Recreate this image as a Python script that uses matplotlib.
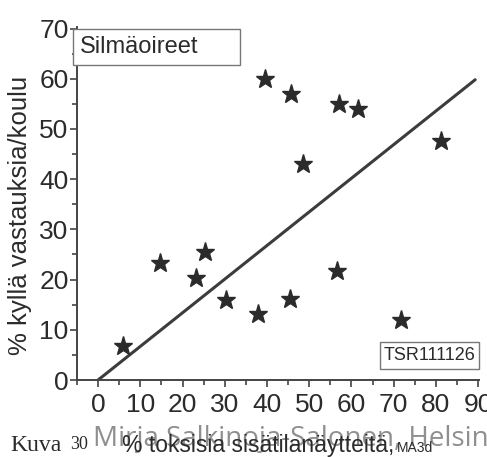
import matplotlib
matplotlib.use("Agg")
import matplotlib.pyplot as plt
from matplotlib.patches import Rectangle
from matplotlib.ticker import MultipleLocator

# toxic indoor samples (%) vs. "yes" answers per school (%)
toxic_pct = [5.9, 14.7, 23.2, 25.4, 30.3, 37.9, 39.6, 45.7, 45.5, 48.6,
             57.1, 61.6, 56.6, 71.8, 81.3]
yes_pct = [6.7, 23.4, 20.4, 25.5, 16.0, 13.1, 60.0, 57.0, 16.2, 43.0,
           54.9, 53.9, 21.8, 11.9, 47.5]
trend_x = [0, 89.3]
trend_y = [0, 59.8]

x_ticks = [0, 10, 20, 30, 40, 50, 60, 70, 80, 90]
y_ticks = [0, 10, 20, 30, 40, 50, 60, 70]

sans = ["Liberation Sans", "DejaVu Sans"]
ink = "#2b2b2b"

W, H = 487, 457
fig = plt.figure(figsize=(W / 100, H / 100), dpi=100)
ax = fig.add_axes([77 / W, 1 - 380 / H, (479 - 77) / W, (380 - 27) / H])

ax.plot(trend_x, trend_y, color="#3c3c3c", lw=2.2, solid_capstyle="round", zorder=2)
ax.plot(toxic_pct, yes_pct, ls="none", marker="*", ms=14, color=ink, zorder=3)

ax.set_xlim(-5, 90.2)
ax.set_ylim(0, 70.3)
ax.set_xticks(x_ticks)
ax.set_yticks(y_ticks)
ax.xaxis.set_minor_locator(MultipleLocator(5))
ax.yaxis.set_minor_locator(MultipleLocator(5))
ax.tick_params(which="both", direction="out", color="#444444", width=1.2)
ax.tick_params(which="major", length=5, labelsize=19, labelcolor=ink)
ax.tick_params(which="minor", length=3.5)
ax.tick_params(axis="y", pad=1)
ax.tick_params(axis="x", pad=4)
for lab in ax.get_xticklabels() + ax.get_yticklabels():
    lab.set_family(sans)

for s in ["top", "right"]:
    ax.spines[s].set_visible(False)
for s in ["left", "bottom"]:
    ax.spines[s].set_color("#444444")
    ax.spines[s].set_linewidth(1.4)

# y label
fig.text(20 / W, 1 - 215 / H, "% kyllä vastauksia/koulu", rotation=90,
         ha="center", va="center", fontsize=18.5, family=sans, color=ink)

# boxes
fig.add_artist(Rectangle((73 / W, 1 - 65 / H), (240 - 73) / W, (65 - 29) / H,
                         transform=fig.transFigure, facecolor="white",
                         edgecolor="#777777", lw=1.0, zorder=5))
fig.text(80 / W, 1 - 47 / H, "Silmäoireet", ha="left", va="center",
         fontsize=17, family=sans, color=ink, zorder=6)
fig.add_artist(Rectangle((380 / W, 1 - 369 / H), (479 - 380) / W, (369 - 342) / H,
                         transform=fig.transFigure, facecolor="white",
                         edgecolor="#777777", lw=1.0, zorder=5))
fig.text(429.5 / W, 1 - 356 / H, "TSR111126", ha="center", va="center",
         fontsize=13, family=sans, color=ink, zorder=6)

# caption line
serif = ["Liberation Serif", "DejaVu Serif"]
fig.text(10 / W, 1 - 451 / H, "Kuva", ha="left", va="baseline",
         fontsize=17, family=serif, color=ink)
fig.text(70 / W, 1 - 449 / H, "30", ha="left", va="baseline",
         fontsize=13, family=serif, color=ink)

# watermark (drawn under the axis title)
fig.text(93 / W, 1 - 446 / H, "Mirja Salkinoja-Salonen, Helsin", ha="left",
         va="baseline", fontsize=20, family=["Open Sans", "DejaVu Sans"],
         color="#8f8f8f", zorder=3)

xl = fig.text(122 / W, 1 - 452 / H, "% toksisia sisätilanäytteitä,", ha="left",
              va="baseline", fontsize=16.5, family=sans, color=ink, zorder=4)
fig.canvas.draw()
bb = xl.get_window_extent()
fig.text((bb.x1 + 3) / W, 1 - 452 / H, "MA3d", ha="left", va="baseline",
         fontsize=10, family=sans, color=ink, zorder=4)

fig.savefig("out.png", dpi=100)
